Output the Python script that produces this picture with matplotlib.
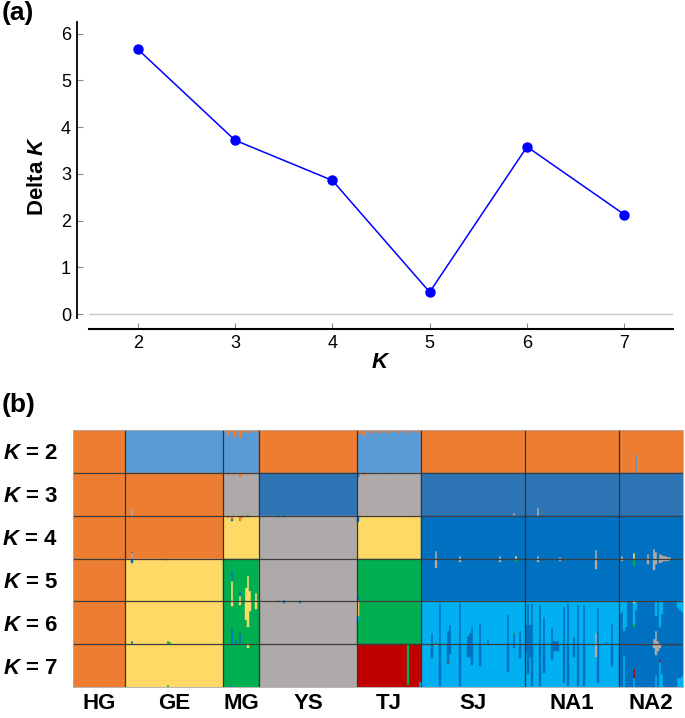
import matplotlib
matplotlib.use('Agg')
import matplotlib.pyplot as plt
import numpy as np

plt.rcParams['font.family'] = ['Liberation Sans', 'DejaVu Sans']
plt.rcParams['mathtext.fontset'] = 'custom'
plt.rcParams['mathtext.it'] = 'Liberation Sans:italic:bold'
plt.rcParams['mathtext.rm'] = 'Liberation Sans:bold'

# ---- (a) Delta K ----
k_values = [2, 3, 4, 5, 6, 7]
delta_k = [5.67, 3.72, 2.86, 0.47, 3.58, 2.13]

# ---- (b) structure bar plots ----
populations = ['HG', 'GE', 'MG', 'YS', 'TJ', 'SJ', 'NA1', 'NA2']
pop_sizes = [26, 49, 18, 49, 32, 52, 47, 32]
row_k = [2, 3, 4, 5, 6, 7]

colors = {
    'orange': '#ED7D31', 'lblue': '#5B9BD5', 'gray': '#AEAAAA',
    'dblue': '#2E75B6', 'blue': '#0070C0', 'yellow': '#FFD966',
    'green': '#00B050', 'cyan': '#00B0F0', 'red': '#C00000',
}

# dominant cluster of each population for each K
main_cluster = {
    2: ['orange', 'lblue', 'lblue', 'orange', 'lblue', 'orange', 'orange', 'orange'],
    3: ['orange', 'orange', 'gray', 'dblue', 'gray', 'dblue', 'dblue', 'dblue'],
    4: ['orange', 'orange', 'yellow', 'gray', 'yellow', 'blue', 'blue', 'blue'],
    5: ['orange', 'yellow', 'green', 'gray', 'green', 'blue', 'blue', 'blue'],
    6: ['orange', 'yellow', 'green', 'gray', 'green', 'cyan', 'cyan', 'blue'],
    7: ['orange', 'yellow', 'green', 'gray', 'red', 'cyan', 'cyan', 'blue'],
}
# stacking order, bottom -> top
stack_order = {
    2: ['lblue', 'orange'],
    3: ['gray', 'dblue', 'orange'],
    4: ['gray', 'yellow', 'blue', 'orange'],
    5: ['yellow', 'blue', 'green', 'gray', 'orange'],
    6: ['gray', 'blue', 'green', 'cyan', 'yellow', 'orange'],
    7: ['cyan', 'red', 'blue', 'gray', 'green', 'yellow', 'orange'],
}

# admixed individuals: (population, index in population, cluster, fraction)
adm_k2 = ([('MG', i, 'orange', f) for i, f in
           {1: .05, 2: .12, 4: .05, 5: .16, 6: .08, 8: .18, 9: .06, 11: .05, 12: .08, 14: .04, 16: .05}.items()]
          + [('TJ', i, 'orange', f) for i, f in
             {0: .1, 1: .06, 2: .08, 3: .15, 5: .05, 7: .09, 9: .04, 11: .07, 13: .05, 15: .08,
              17: .04, 20: .06, 22: .05, 24: .07, 27: .05, 29: .04, 31: .06}.items()]
          + [('NA2', 8, 'lblue', .42)])

adm_k3 = ([('GE', 3, 'gray', .16)]
          + [('MG', i, 'orange', f) for i, f in {2: .04, 5: .06, 8: .1, 9: .05, 12: .05}.items()]
          + [('TJ', 0, 'dblue', .1)]
          + [('TJ', i, 'orange', f) for i, f in {3: .04, 8: .03, 15: .03, 25: .03}.items()]
          + [('YS', 10, 'orange', .03), ('YS', 30, 'orange', .02)]
          + [('SJ', 46, 'gray', .06), ('NA1', 6, 'gray', .19)]
          + [('NA2', 10, 'orange', .03), ('NA2', 20, 'orange', .03)])

adm_k4 = ([('GE', 3, 'gray', .12), ('GE', 3, 'blue', .04)]
          + [('MG', i, 'orange', f) for i, f in {2: .05, 4: .08, 5: .04, 8: .12, 9: .06, 11: .04}.items()]
          + [('MG', 4, 'blue', .04), ('MG', 12, 'blue', .03)]
          + [('TJ', 0, 'blue', .15), ('TJ', 1, 'orange', .03), ('TJ', 5, 'orange', .03), ('TJ', 28, 'orange', .04)]
          + [('YS', 9, 'blue', .03), ('YS', 12, 'blue', .03)]
          + [('SJ', i, 'gray', f) for i, f in {7: .17, 19: .05, 39: .06}.items()]
          + [('SJ', 47, 'yellow', .05)]
          + [('NA1', i, 'gray', f) for i, f in {6: .05, 17: .04, 35: .19}.items()]
          + [('NA2', i, 'gray', f) for i, f in
             {1: .05, 14: .11, 17: .22, 18: .15, 20: .1, 21: .08, 22: .06, 23: .05, 24: .04, 25: .03}.items()]
          + [('NA2', 7, 'yellow', .13)])

adm_k5 = ([('GE', 3, 'blue', .1), ('GE', 20, 'green', .03)]
          + [('MG', i, 'yellow', f) for i, f in {4: .47, 8: .12, 11: .32, 12: .59, 13: .24, 16: .2}.items()]
          + [('MG', 4, 'blue', .23), ('MG', 8, 'blue', .1)]
          + [('TJ', 0, 'blue', .12), ('YS', 9, 'green', .03), ('YS', 12, 'blue', .03)]
          + [('SJ', i, 'gray', f) for i, f in {7: .22, 19: .08, 39: .08}.items()]
          + [('SJ', 47, 'green', .08)]
          + [('NA1', i, 'gray', f) for i, f in {6: .08, 17: .05, 35: .24}.items()]
          + [('NA2', 7, 'green', .18)]
          + [('NA2', i, 'gray', f) for i, f in
             {1: .05, 14: .14, 17: .26, 18: .12, 20: .1, 21: .08, 22: .07, 23: .06, 24: .05, 25: .04}.items()])

adm_k6 = ([('GE', 3, 'blue', .08), ('GE', 21, 'green', .08), ('GE', 22, 'green', .05)]
          + [('MG', i, 'yellow', f) for i, f in {4: .11, 8: .08, 11: .43, 12: .59, 13: .23, 16: .19}.items()]
          + [('MG', i, 'blue', f) for i, f in {4: .37, 6: .1, 8: .25}.items()]
          + [('TJ', 0, 'yellow', .35), ('TJ', 0, 'cyan', .1)]
          + [('YS', 12, 'blue', .03), ('YS', 20, 'blue', .03)]
          + [('SJ', i, 'blue', f) for i, f in
             {5: .26, 9: .95, 13: .3, 14: .44, 19: .95, 23: .2, 24: .26, 25: .4, 29: .5, 33: .1,
              43: .68, 46: .24, 49: .3}.items()]
          + [('SJ', 7, 'green', .04), ('SJ', 46, 'green', .05)]
          + [('NA1', i, 'blue', f) for i, f in
             {0: .45, 1: .94, 2: .45, 3: .94, 7: .92, 9: .63, 13: .37, 14: .08, 15: .08, 16: .08,
              19: .86, 21: .95, 24: .16, 26: .92, 29: .92, 36: .84, 40: .05, 43: .46}.items()]
          + [('NA1', 35, 'gray', .26)]
          + [('NA2', i, 'cyan', f) for i, f in
             {0: .3, 1: .25, 2: .7, 3: .6, 7: .5, 8: .2, 18: .35, 20: .6, 21: .3, 29: .15, 30: .2, 31: .25}.items()]
          + [('NA2', i, 'gray', f) for i, f in {17: .12, 18: .3, 19: .08}.items()]
          + [('NA2', 7, 'green', .08), ('NA2', 7, 'yellow', .03)])

adm_k7 = ([('GE', 21, 'green', .05), ('MG', 12, 'yellow', .1), ('MG', 4, 'blue', .05)]
          + [('TJ', 25, 'green', .95), ('TJ', 31, 'cyan', .12)]
          + [('SJ', i, 'blue', f) for i, f in
             {5: .32, 9: .98, 13: .41, 14: .24, 19: .98, 23: .3, 24: .3, 25: .48, 29: .5, 43: .66,
              46: .1, 49: .32}.items()]
          + [('SJ', 7, 'gray', .05), ('SJ', 13, 'red', .04)]
          + [('NA1', i, 'blue', f) for i, f in
             {0: .19, 1: .7, 2: .3, 3: .98, 7: .98, 9: .67, 13: .37, 14: .17, 15: .17, 16: .17,
              19: .9, 21: .98, 24: .3, 26: .98, 29: .98, 36: .9, 43: .5}.items()]
          + [('NA1', 35, 'gray', .3)]
          + [('NA2', i, 'cyan', f) for i, f in
             {2: .75, 7: .2, 18: .27, 20: .58, 21: .3, 29: .2, 30: .2, 31: .25}.items()]
          + [('NA2', 7, 'red', .22), ('NA2', 20, 'red', .05)]
          + [('NA2', i, 'gray', f) for i, f in {17: .1, 18: .25, 19: .15, 20: .1}.items()])

admixture = {2: adm_k2, 3: adm_k3, 4: adm_k4, 5: adm_k5, 6: adm_k6, 7: adm_k7}

fig = plt.figure(figsize=(6.85, 7.18), dpi=100)
ax1 = fig.add_axes([89 / 685, 1 - 329 / 718, 584 / 685, 307 / 718])
ax2 = fig.add_axes([73 / 685, 31 / 718, 610 / 685, 257 / 718])

# (a)
ax1.axhline(0, color='#c8c8c8', lw=1, zorder=0)
ax1.plot(k_values, delta_k, '-o', color='#0000ff', lw=1.1, ms=6.5, clip_on=False)
ax1.set_xlim(1.5, 7.5)
ax1.set_ylim(-0.32, 6.25)
ax1.set_xticks(k_values)
ax1.set_yticks(range(7))
for s in ['top', 'right']:
    ax1.spines[s].set_visible(False)
ax1.spines['left'].set_position(('outward', 9))
ax1.spines['left'].set_bounds(-0.09, 6.25)
ax1.spines['left'].set_linewidth(1.3)
ax1.spines['bottom'].set_linewidth(1.5)
ax1.tick_params(direction='in', length=4, width=0.8, color='#888888', labelsize=13, pad=4)
ax1.set_ylabel(r'Delta $\mathit{K}$', fontsize=16, fontweight='bold', labelpad=9)
ax1.set_xlabel(r'$\mathit{K}$', fontsize=16, labelpad=0)

# (b)
pop_start = np.cumsum([0] + pop_sizes[:-1])
n_total = sum(pop_sizes)
x = np.arange(n_total) + 0.5
for r, k in enumerate(row_k):
    q = {c: np.zeros(n_total) for c in stack_order[k]}
    for p, pop in enumerate(populations):
        q[main_cluster[k][p]][pop_start[p]:pop_start[p] + pop_sizes[p]] = 1.0
    for pop, idx, c, f in admixture[k]:
        p = populations.index(pop)
        i = pop_start[p] + idx
        q[c][i] += f
        q[main_cluster[k][p]][i] -= f
    bottom = np.full(n_total, 5.0 - r)
    for c in stack_order[k]:
        keep = q[c] > 0
        ax2.bar(x[keep], q[c][keep], bottom=bottom[keep], width=1.0, color=colors[c],
                edgecolor=colors[c], linewidth=0.3)
        bottom = bottom + q[c]

for r in range(1, 6):
    ax2.axhline(r, color='#3c3c3c', lw=0.9)
for s in pop_start[1:]:
    ax2.axvline(s, color='#333333', lw=0.9)
ax2.set_xlim(0, n_total)
ax2.set_ylim(0, 6)
for s in ax2.spines.values():
    s.set_linewidth(0.6)
    s.set_color('#aaaaaa')
ax2.set_yticks([5.5 - r for r in range(6)])
ax2.set_yticklabels([r'$\mathit{K}$ = %d' % k for k in row_k], fontsize=16, fontweight='bold')
ax2.set_xticks(pop_start + np.array(pop_sizes) / 2)
ax2.set_xticklabels(populations, fontsize=16, fontweight='bold')
ax2.tick_params(axis='y', length=0, pad=11)
ax2.tick_params(axis='x', length=0, pad=4)

fig.text(0.003, 0.999, '(a)', fontsize=19, fontweight='bold', va='top', ha='left')
fig.text(0.003, 1 - 393 / 718, '(b)', fontsize=19, fontweight='bold', va='top', ha='left')

fig.savefig('out.png', dpi=100)
